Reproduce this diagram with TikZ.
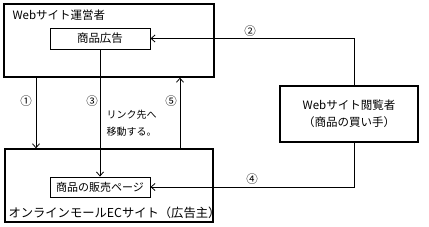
\documentclass[tikz,border=0pt]{standalone}
\usepackage{fontspec}
\newfontfamily\jp{Noto Sans CJK JP}
\usetikzlibrary{arrows.meta,positioning}

\begin{document}
\begin{tikzpicture}[x=1pt,y=-1pt,
  every node/.style={font=\jp\fontsize{11}{14}\selectfont},
  party/.style={draw,line width=1.3pt,inner sep=0pt},
  page/.style={draw,line width=0.9pt,inner sep=0pt},
  e/.style={-{Straight Barb[length=4pt,width=7pt]},line width=0.8pt},
  num/.style={font=\jp\fontsize{11.5}{12}\selectfont,inner sep=1pt}]
 \useasboundingbox (0,0) rectangle (429,226);
 % parties
 \node[party,minimum width=210,minimum height=73] (op) at (109,40.5) {};
 \node[party,minimum width=208,minimum height=73] (mall) at (109,185.5) {};
 \node[party,minimum width=138,minimum height=56,align=center,font=\jp\fontsize{11.5}{17}\selectfont] (viewer) at (349,114) {Webサイト閲覧者\\（商品の買い手）};
 \node[anchor=west,font=\jp\fontsize{11.5}{14}\selectfont] (optitle) at (9,15) {Webサイト運営者};
 \node[anchor=west,font=\jp\fontsize{12.3}{14}\selectfont] (malltitle) at (5,213) {オンラインモールECサイト（広告主）};
 % pages
 \node[page,minimum width=100,minimum height=21,font=\jp\fontsize{11.5}{14}\selectfont] (ad) at (100,38.5) {商品広告};
 \node[page,minimum width=100,minimum height=20] (sales) at (100,187) {商品の販売ページ};
 \coordinate (c1) at (36,0);
 \coordinate (c5) at (180,0);
 % flows
 \draw[e] (op.south -| c1) -- (mall.north -| c1);
 \draw[e] ([xshift=5]viewer.north) |- (ad.east);
 \draw[e] (ad.south) -- (sales.north);
 \draw[e] ([xshift=5]viewer.south) |- (sales.east);
 \draw[e] (mall.north -| c5) -- (op.south -| c5);
 \node[num] (n1) at (26,101) {①};
 \node[num] (n2) at (250,31) {②};
 \node[num] (n3) at (92,101) {③};
 \node[num] (n4) at (252,179) {④};
 \node[num] (n5) at (171,101) {⑤};
 \node[anchor=north west,align=left,font=\jp\fontsize{10}{17}\selectfont] (link) at (103,107) {リンク先へ\\移動する。};
\end{tikzpicture}
\end{document}
